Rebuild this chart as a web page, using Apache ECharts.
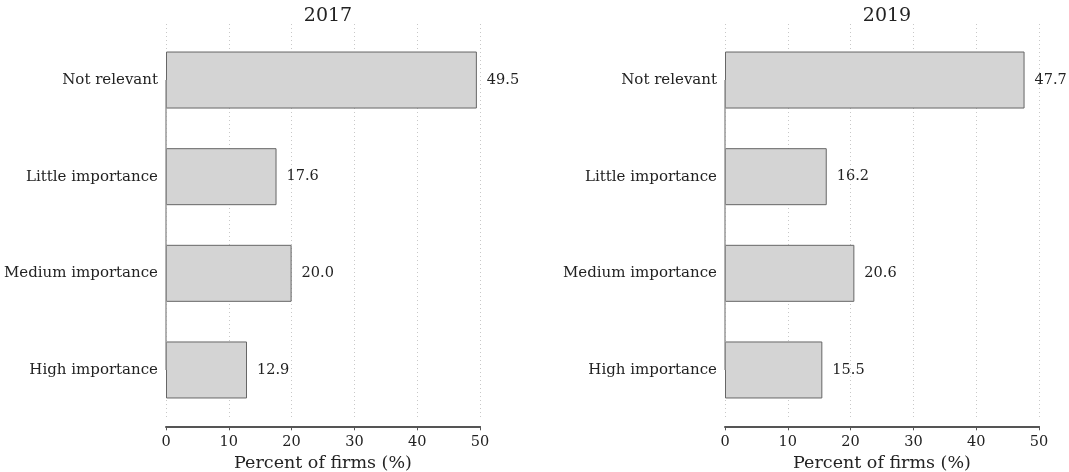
<!DOCTYPE html>
<html><head><meta charset="utf-8">
<script src="https://cdn.jsdelivr.net/npm/echarts@6/dist/echarts.min.js"></script>
<style>html,body{margin:0;padding:0;background:#fff}#c{width:1069px;height:472px}</style>
</head><body><div id="c"></div>
<script>
const categories = ['Not relevant', 'Little importance', 'Medium importance', 'High importance'];
const values2017 = [49.5, 17.6, 20.0, 12.9];
const values2019 = [47.7, 16.2, 20.6, 15.5];
const panelTitles = ['2017', '2019'];
const xTicks = [0, 10, 20, 30, 40, 50];
const axisTitle = 'Percent of firms (%)';

const FONT = '"DejaVu Serif", serif';
const chart = echarts.init(document.getElementById('c'), null, {renderer: 'canvas'});
const panels = [{left: 166, data: values2017}, {left: 725, data: values2019}];
const W = 314;
const grid = [], xAxis = [], yAxis = [], series = [], title = [];
panels.forEach((p, i) => {
  grid.push({left: p.left, width: W, top: 24, height: 396, containLabel: false, outerBoundsMode: 'none'});
  grid.push({left: p.left, width: W, top: 31.7, height: 386.6, containLabel: false, outerBoundsMode: 'none'});
  const gGrid = i * 2, gMain = i * 2 + 1;
  xAxis.push({gridIndex: gGrid, type: 'value', min: xTicks[0], max: xTicks[xTicks.length - 1], interval: 10,
    axisLine: {show: false}, axisTick: {show: false}, axisLabel: {show: false},
    splitLine: {show: true, lineStyle: {color: '#c8c8c8', type: [1, 3], width: 1}}});
  yAxis.push({gridIndex: gGrid, type: 'value', show: false});
  xAxis.push({gridIndex: gMain, type: 'value', min: xTicks[0], max: xTicks[xTicks.length - 1], interval: 10,
    position: 'bottom', offset: 8,
    axisLine: {show: true, lineStyle: {color: '#555', width: 2}},
    axisTick: {show: true, length: 4, lineStyle: {color: '#555', width: 1}},
    axisLabel: {fontFamily: FONT, fontSize: 14.5, color: '#222', margin: 8},
    splitLine: {show: false},
    name: axisTitle, nameLocation: 'middle', nameGap: 27,
    nameTextStyle: {fontFamily: FONT, fontSize: 17.5, color: '#222'}});
  yAxis.push({gridIndex: gMain, type: 'category', data: categories, inverse: true,
    axisLine: {show: false}, axisTick: {show: false},
    axisLabel: {fontFamily: FONT, fontSize: 15, color: '#222', margin: 8}});
  series.push({type: 'bar', xAxisIndex: i * 2 + 1, yAxisIndex: i * 2 + 1, data: p.data, barWidth: 57,
    itemStyle: {color: '#d4d4d4', borderColor: '#666', borderWidth: 1},
    label: {show: true, position: 'right', distance: 10, fontFamily: FONT, fontSize: 14.5, color: '#222',
      formatter: d => d.value.toFixed(1)},
    markLine: {silent: true, symbol: 'none', animation: false, label: {show: false},
      lineStyle: {color: '#999', type: 'solid', width: 1.5},
      data: [[{coord: [0, categories[0]]}, {coord: [0, categories[categories.length - 1]]}]]},
    z: 3});
  title.push({text: panelTitles[i], left: p.left + W / 2, top: 2, textAlign: 'center',
    textStyle: {fontFamily: FONT, fontSize: 19, fontWeight: 'normal', color: '#222'}});
});
chart.setOption({animation: false, title, grid, xAxis, yAxis, series});
</script></body></html>
